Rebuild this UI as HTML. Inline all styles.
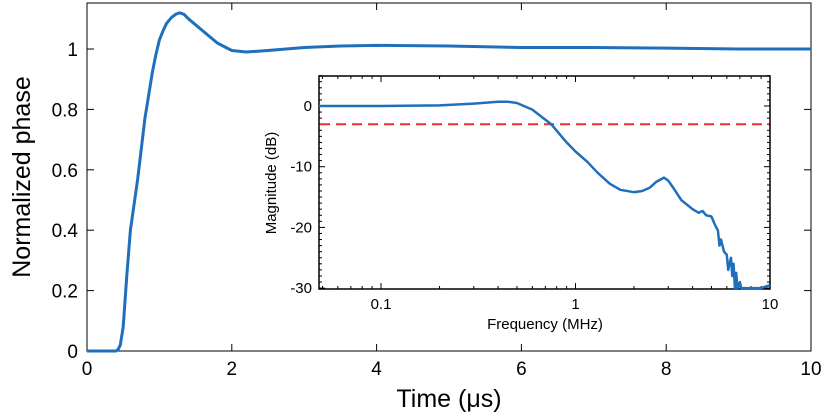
<!DOCTYPE html>
<html><head><meta charset="utf-8"><style>
html,body{margin:0;padding:0;background:#fff;}
svg{display:block;font-family:"Liberation Sans",sans-serif;}
</style></head><body>
<svg id="c" width="831" height="414"></svg>
<script>
const mainX=[0,0.2,0.4,0.43,0.46,0.5,0.55,0.6,0.7,0.8,0.9,0.95,1.0,1.05,1.1,1.17,1.23,1.28,1.34,1.4,1.5,1.6,1.8,2.0,2.2,2.5,3.0,3.5,4.0,5.0,6.0,7.0,8.0,9.0,10.0];
const mainY=[0,0,0,0.005,0.02,0.08,0.25,0.40,0.57,0.77,0.92,0.98,1.03,1.06,1.085,1.105,1.116,1.12,1.115,1.10,1.08,1.06,1.02,0.995,0.99,0.995,1.005,1.01,1.012,1.01,1.005,1.005,1.003,1.0,1.0];
const mainXTicks=[0,2,4,6,8,10];
const mainYTicks=[0,0.2,0.4,0.6,0.8,1];
const magF=[0.048,0.1,0.2,0.3,0.4,0.45,0.5,0.6,0.75,0.9,1.0,1.15,1.3,1.5,1.7,2.0,2.2,2.4,2.6,2.85,3.0,3.2,3.5,4.0,4.3,4.5,4.7,5.0,5.2,5.4,5.5,5.6,5.8,6.0,6.1,6.3,6.4,6.5,6.6,6.7,6.8,7.0,7.1,7.2,7.4,8.0,9.0,10.0];
const magDB=[0,0,0.1,0.4,0.7,0.7,0.5,-0.6,-3,-6,-7.5,-9.2,-11,-12.8,-13.8,-14.2,-14,-13.5,-12.5,-11.8,-12.3,-13.6,-15.5,-17,-17.6,-17.3,-18,-18.2,-19.5,-20.5,-23,-22,-24,-24.5,-27,-25,-28,-26,-30,-27.5,-30,-29,-30,-30,-30,-30,-30,-29.5];
const insXTicks=[0.1,1,10];
const insXLabels=["0.1","1","10"];
const insYTicks=[0,-10,-20,-30];
const cutoffDB=-3;

const NS="http://www.w3.org/2000/svg";
const svg=document.getElementById('c');
function mk(t,a,p){const e=document.createElementNS(NS,t);for(const k in a)e.setAttribute(k,a[k]);(p||svg).appendChild(e);return e;}
const blue="#1f6fbd";
const mx=v=>87+v*72.4, my=v=>351-v*302;
const mg=mk('g',{});


mk('rect',{x:87,y:3,width:724,height:348,fill:'none',stroke:'#000','stroke-width':1},mg);
mainXTicks.forEach(t=>{const x=mx(t);
 mk('line',{x1:x,x2:x,y1:351,y2:344,stroke:'#000'},mg);mk('line',{x1:x,x2:x,y1:3,y2:10,stroke:'#000'},mg);
 const tx=mk('text',{x:x,y:375,'text-anchor':'middle','font-size':19},mg);tx.textContent=t;
 });
mainYTicks.forEach(t=>{const y=my(t);
 mk('line',{x1:87,x2:94,y1:y,y2:y,stroke:'#000'},mg);mk('line',{x1:811,x2:804,y1:y,y2:y,stroke:'#000'},mg);
 const tx=mk('text',{x:78,y:y+7,'text-anchor':'end','font-size':19},mg);tx.textContent=t;
 });
const xl=mk('text',{x:449,y:407,'text-anchor':'middle','font-size':25},mg);xl.textContent='Time (μs)';

const yl=mk('text',{x:0,y:0,'text-anchor':'middle','font-size':25,transform:'translate(30,177) rotate(-90)'},mg);yl.textContent='Normalized phase';

const mp=mk('path',{d:mainX.map((v,i)=>(i?'L':'M')+mx(v).toFixed(1)+','+my(mainY[i]).toFixed(1)).join(''),fill:'none',stroke:blue,'stroke-width':3,'stroke-linejoin':'round'},mg);

const L0=Math.log10(0.048);
const ix=f=>319+(Math.log10(f)-L0)*194.5, iy=d=>106-d*6.07;
const ig=mk('g',{});


mk('rect',{x:319,y:76,width:451,height:213,fill:'#fff',stroke:'#000','stroke-width':1.5},ig);
for(let d=-2;d<=0;d++)for(let m=1;m<10;m++){const f=m*Math.pow(10,d);if(f<0.048||f>10)continue;const x=ix(f),len=m===1?6:3;
 mk('line',{x1:x,x2:x,y1:289,y2:289-len,stroke:'#000'},ig);mk('line',{x1:x,x2:x,y1:76,y2:76+len,stroke:'#000'},ig);}
insXTicks.forEach((t,i)=>{const tx=mk('text',{x:ix(t),y:309,'text-anchor':'middle','font-size':15},ig);tx.textContent=insXLabels[i];
 });
for(let d=5;d>=-30;d--){const y=iy(d),len=d%10===0?6:3;
 mk('line',{x1:319,x2:319+len,y1:y,y2:y,stroke:'#000'},ig);mk('line',{x1:770,x2:770-len,y1:y,y2:y,stroke:'#000'},ig);}
insYTicks.forEach(t=>{const tx=mk('text',{x:312,y:iy(t)+5,'text-anchor':'end','font-size':15},ig);tx.textContent=t;
 });
const ixl=mk('text',{x:545,y:329,'text-anchor':'middle','font-size':15},ig);ixl.textContent='Frequency (MHz)';

const iyl=mk('text',{x:0,y:0,'text-anchor':'middle','font-size':15,transform:'translate(276,183) rotate(-90)'},ig);iyl.textContent='Magnitude (dB)';

const cl=mk('line',{x1:320,x2:769,y1:iy(cutoffDB),y2:iy(cutoffDB),stroke:'#e8322e','stroke-width':2,'stroke-dasharray':'10,6'},ig);

const ip=mk('path',{d:magF.map((f,i)=>(i?'L':'M')+ix(f).toFixed(1)+','+iy(magDB[i]).toFixed(1)).join(''),fill:'none',stroke:blue,'stroke-width':2.5,'stroke-linejoin':'round'},ig);

</script>
</body></html>
